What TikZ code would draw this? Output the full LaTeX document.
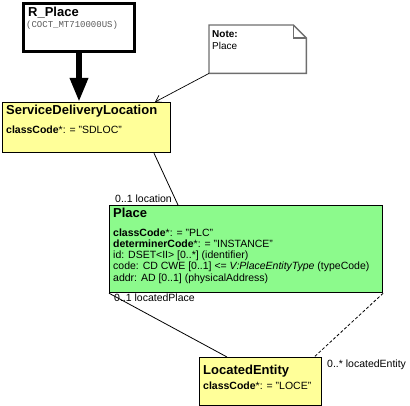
\documentclass[tikz,border=0pt]{standalone}
\usepackage{fontspec}
\setmainfont{Liberation Sans}
\setmonofont{Liberation Mono}
\usetikzlibrary{arrows.meta,positioning}
\definecolor{clsyellow}{RGB}{255,255,153}
\definecolor{clsgreen}{RGB}{140,250,140}
\definecolor{idgray}{RGB}{90,90,90}
\definecolor{notegray}{RGB}{110,110,110}
\tikzset{
  classbox/.style={draw, line width=1.2pt, anchor=north west, inner sep=0pt},
  clstitle/.style={anchor=north west, inner sep=0pt, font=\fontsize{13}{15}\selectfont\bfseries},
  clsattrs/.style={anchor=north west, inner sep=0pt, align=left, font=\fontsize{10.5}{11.3}\selectfont},
  rolelabel/.style={anchor=base west, inner sep=0pt, font=\fontsize{10.5}{12}\selectfont},
}
\begin{document}
\begin{tikzpicture}[x=1pt,y=-1pt]
  \useasboundingbox (0,0) rectangle (410,406);

  % boxes
  \node [classbox, line width=3pt, fill=white, minimum width=111pt, minimum height=48pt] (RPlace) at (22,2) {};
  \node [anchor=north west, minimum width=97pt, minimum height=48pt] (Note) at (209,25) {};
  \node [classbox, fill=clsyellow, minimum width=168pt, minimum height=50pt] (SDL) at (2,102) {};
  \node [classbox, fill=clsgreen, minimum width=273pt, minimum height=87pt] (Place) at (109,205) {};
  \node [classbox, fill=clsyellow, minimum width=122pt, minimum height=48pt] (LocEntity) at (199,357) {};

  \draw [line width=1.4pt, draw=notegray, fill=white] (Note.north west) -- ([xshift=-13pt]Note.north east) -- ([yshift=-13pt]Note.north east) -- (Note.south east) -- (Note.south west) -- cycle;
  \draw [line width=1.2pt, draw=notegray] ([xshift=-13pt]Note.north east) -- ([xshift=-13pt,yshift=-13pt]Note.north east) -- ([yshift=-13pt]Note.north east);

  % texts
  \node [clstitle] (RPlaceTitle) at (28,7.3) {R\_Place};
  \node [anchor=west, inner sep=0pt, text=idgray, font=\fontsize{9}{10}\ttfamily] (RPlaceId) at (26,25) {(COCT\_MT710000US)};
  \node [anchor=north west, inner sep=0pt, align=left, font=\fontsize{10}{12}\selectfont] (NoteText) at (212,30.4) {\textbf{Note:}\\Place};

  \node [clstitle] (SDLTitle) at (6,105.3) {ServiceDeliveryLocation};
  \node [clsattrs] (SDLAttrs) at (6,125.2) {\textbf{classCode}*: = "SDLOC"};

  \node [clstitle] (PlaceTitle) at (113,208.3) {Place};
  \node [clsattrs] (PlaceAttrs) at (113,228.2) {\textbf{classCode}*: = "PLC"\\
    \textbf{determinerCode}*: = "INSTANCE"\\
    id: DSET<II> [0..*] (identifier)\\
    code: CD CWE [0..1] <= \textit{V:PlaceEntityType} (typeCode)\\
    addr: AD [0..1] (physicalAddress)};

  \node [clstitle] (LocTitle) at (203,365.3) {LocatedEntity};
  \node [clsattrs] (LocAttrs) at (203,381.2) {\textbf{classCode}*: = "LOCE"};

  % connectors
  \draw [line width=6pt, -{Triangle[length=24pt,width=17pt]}] (RPlace.south) -- (RPlace.south |- SDL.north);
  \draw [line width=0.7pt, -{Straight Barb[length=6pt,width=8pt]}] (Note.south west) -- ([xshift=153pt]SDL.north west);
  \draw [line width=0.8pt] ([xshift=152pt]SDL.south west) -- ([xshift=69pt]Place.north west);
  \draw [line width=0.8pt] (Place.south west) -- ([xshift=28pt]LocEntity.north west);
  \draw [line width=0.8pt, dash pattern=on 3pt off 2pt] (Place.south east) -- ([xshift=-8pt]LocEntity.north east);

  % roles
  \node [rolelabel, anchor=base east] (locationRole) at (172,203) {0..1 location};
  \node [rolelabel] (locatedPlaceRole) at (114,302) {0..1 locatedPlace};
  \node [rolelabel] (locatedEntityRole) at (327,367) {0..* locatedEntity};
\end{tikzpicture}
\end{document}
